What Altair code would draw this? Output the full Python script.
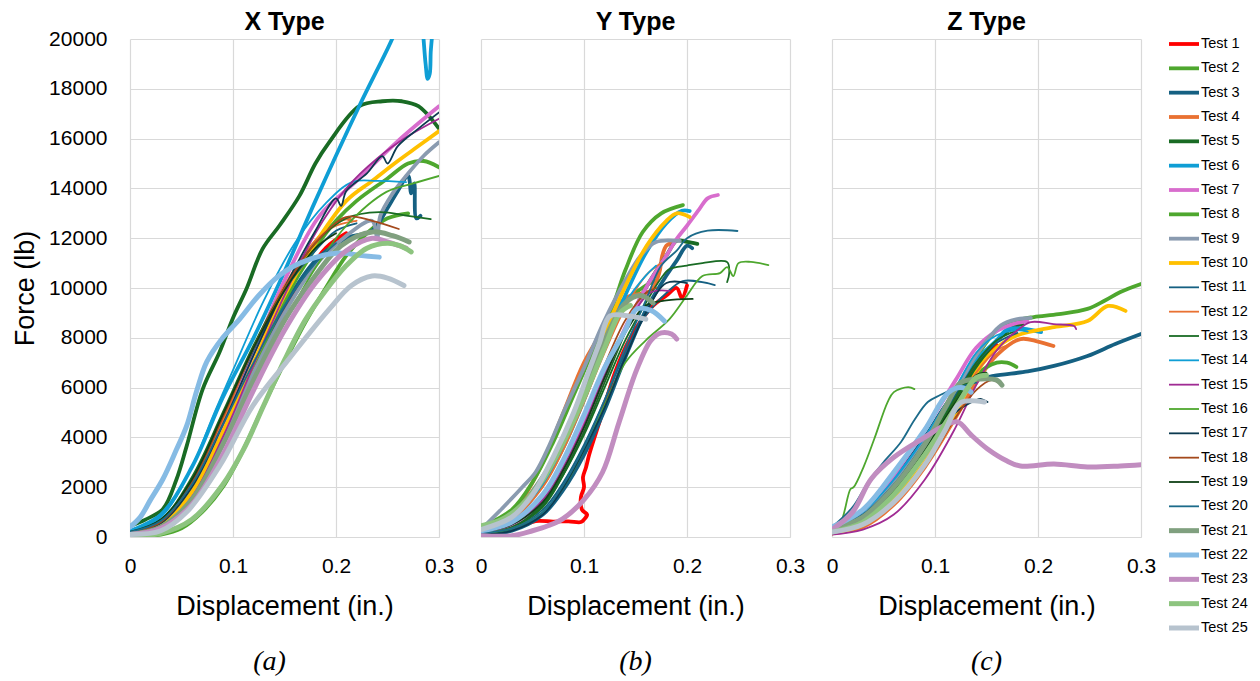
import altair as alt
import pandas as pd

TESTS = [f"Test {i}" for i in range(1, 26)]
COLORS = ["#FF0000", "#4EA72E", "#156082", "#E97132", "#196B24", "#0F9ED5", "#D86DCD",
          "#4EA72E", "#8A9BB0", "#FFC000", "#156082", "#E97132", "#196B24", "#0F9ED5",
          "#A02B93", "#4EA72E", "#0C3A50", "#A4491C", "#0F4016", "#1C6B8A", "#80A07F",
          "#86BBE4", "#C18DC0", "#8DC47F", "#B7C3CE"]
WIDTHS = [3.8] * 10 + [1.8] * 10 + [5.0] * 5

X_TICKS = [0, 0.1, 0.2, 0.3]
Y_TICKS = list(range(0, 20001, 2000))

# ---- X Type (a) ----
X_TYPE = {
    "Test 1": ([0, 0.03, 0.06, 0.08, 0.1, 0.13, 0.16, 0.19, 0.21],
               [100, 500, 1800, 3000, 4800, 7500, 9800, 11600, 12200]),
    "Test 2": ([0, 0.03, 0.05, 0.07, 0.09, 0.11, 0.13, 0.15, 0.17, 0.19, 0.21, 0.23, 0.25, 0.27],
               [0, 100, 350, 1000, 2000, 3500, 5300, 7000, 8600, 10000, 11300, 12200, 12800, 13000]),
    "Test 3": ([0, 0.03, 0.06, 0.09, 0.12, 0.15, 0.18, 0.21, 0.235, 0.25, 0.26, 0.27, 0.273, 0.276, 0.278, 0.282],
               [150, 500, 1900, 4300, 6900, 9300, 11100, 12000, 12300, 13200, 13900, 14500, 13800, 14200, 12800, 12900]),
    "Test 4": ([0, 0.03, 0.06, 0.09, 0.12, 0.15, 0.17, 0.19, 0.21, 0.215],
               [100, 500, 2000, 4600, 7400, 9900, 11300, 12300, 12800, 12700]),
    "Test 5": ([0, 0.015, 0.032, 0.045, 0.055, 0.0706, 0.087, 0.1, 0.113, 0.1287, 0.145, 0.1645, 0.18, 0.1935, 0.2226, 0.245, 0.264, 0.28, 0.3],
               [440, 700, 1125, 2300, 3650, 5940, 7430, 8800, 9960, 11570, 12500, 13700, 15000, 15860, 17300, 17500, 17500, 17300, 16400]),
    "Test 6": ([0, 0.03, 0.06, 0.09, 0.12, 0.148, 0.18, 0.2226, 0.2545, 0.26, 0.27, 0.283, 0.285, 0.287, 0.289, 0.291, 0.292, 0.293, 0.295],
               [250, 900, 2800, 5600, 8000, 10480, 13500, 17310, 20000, 20600, 21500, 21000, 20000, 19000, 18400, 18600, 19500, 20000, 21000]),
    "Test 7": ([0, 0.03, 0.06, 0.09, 0.12, 0.15, 0.184, 0.22, 0.26, 0.3],
               [100, 450, 1800, 4300, 7400, 10300, 12900, 14300, 15900, 17300]),
    "Test 8": ([0, 0.03, 0.06, 0.09, 0.12, 0.15, 0.18, 0.2, 0.22, 0.25, 0.27, 0.285, 0.3],
               [100, 400, 1500, 3800, 6800, 9500, 11600, 12700, 13500, 14400, 15000, 15100, 14850]),
    "Test 9": ([0, 0.03, 0.06, 0.09, 0.12, 0.15, 0.18, 0.21, 0.235, 0.24, 0.243, 0.255, 0.268, 0.285, 0.3],
               [150, 500, 1700, 4000, 6600, 9000, 10900, 12100, 12700, 12000, 12900, 13800, 14500, 15300, 15850]),
    "Test 10": ([0, 0.03, 0.06, 0.09, 0.12, 0.15, 0.18, 0.21, 0.235, 0.26, 0.28, 0.3],
                [100, 450, 1800, 4200, 7000, 9700, 11800, 13500, 14300, 15100, 15700, 16300]),
    "Test 11": ([0, 0.03, 0.06, 0.09, 0.12, 0.15, 0.18, 0.2, 0.22],
                [200, 700, 2300, 4800, 7500, 9900, 11500, 12300, 12600]),
    "Test 12": ([0, 0.03, 0.06, 0.09, 0.12, 0.15, 0.18, 0.2, 0.22],
                [150, 600, 2100, 4700, 7600, 10100, 11900, 12500, 12700]),
    "Test 13": ([0, 0.03, 0.06, 0.09, 0.12, 0.15, 0.18, 0.21, 0.242, 0.27, 0.292],
                [200, 700, 2400, 5000, 7700, 10000, 11800, 12800, 13050, 12900, 12770]),
    "Test 14": ([0, 0.03, 0.06, 0.08, 0.1, 0.13, 0.16, 0.19, 0.216, 0.24, 0.268],
                [200, 800, 2800, 4800, 6700, 9500, 11800, 13400, 14260, 14300, 14250]),
    "Test 15": ([0, 0.03, 0.06, 0.09, 0.12, 0.15, 0.18, 0.21, 0.24, 0.27, 0.3],
                [100, 400, 1600, 4000, 6900, 9700, 12200, 14000, 15200, 16100, 16800]),
    "Test 16": ([0, 0.03, 0.06, 0.09, 0.12, 0.15, 0.18, 0.21, 0.249, 0.275, 0.3],
                [100, 300, 1200, 3300, 6000, 8600, 10800, 12500, 13860, 14200, 14500]),
    "Test 17": ([0, 0.03, 0.06, 0.09, 0.12, 0.15, 0.18, 0.2, 0.205, 0.21, 0.23, 0.245, 0.25, 0.26, 0.28, 0.3],
                [150, 550, 2000, 4500, 7300, 10000, 12300, 13600, 13300, 13900, 14600, 15300, 15000, 15700, 16400, 17050]),
    "Test 18": ([0, 0.03, 0.06, 0.09, 0.12, 0.15, 0.18, 0.21, 0.235, 0.261],
                [150, 600, 2200, 4800, 7600, 10000, 11800, 12850, 12700, 12370]),
    "Test 19": ([0, 0.03, 0.06, 0.09, 0.12, 0.15, 0.18, 0.2],
                [200, 700, 2300, 4900, 7600, 9900, 11600, 12200]),
    "Test 20": ([0, 0.03, 0.06, 0.09, 0.12, 0.15, 0.18, 0.2],
                [200, 650, 2100, 4500, 7000, 9300, 11000, 11800]),
    "Test 21": ([0, 0.03, 0.06, 0.09, 0.12, 0.15, 0.18, 0.205, 0.235, 0.255, 0.271],
                [100, 400, 1500, 3700, 6300, 8700, 10500, 11700, 12250, 12100, 11850]),
    "Test 22": ([0, 0.01, 0.02, 0.032, 0.045, 0.055, 0.065, 0.0745, 0.09, 0.1065, 0.125, 0.145, 0.165, 0.2, 0.225, 0.242],
                [400, 800, 1500, 2330, 3500, 4460, 5900, 7030, 8000, 8750, 9700, 10500, 11000, 11400, 11300, 11240]),
    "Test 23": ([0, 0.03, 0.06, 0.09, 0.12, 0.15, 0.18, 0.21, 0.235, 0.25, 0.268],
                [100, 350, 1300, 3300, 5900, 8300, 10200, 11500, 12000, 11850, 11600]),
    "Test 24": ([0, 0.03, 0.06, 0.09, 0.11, 0.13, 0.15, 0.17, 0.19, 0.21, 0.23, 0.25, 0.262, 0.273],
                [50, 150, 700, 2100, 3500, 5300, 7100, 8700, 9900, 10900, 11600, 11800, 11700, 11450]),
    "Test 25": ([0, 0.03, 0.055, 0.087, 0.119, 0.152, 0.1935, 0.215, 0.235, 0.25, 0.266],
                [100, 250, 1000, 2850, 5260, 7030, 9150, 10100, 10480, 10400, 10100]),
}

# ---- Y Type (b) ----
Y_TYPE = {
    "Test 1": ([0, 0.02, 0.04, 0.053, 0.07, 0.085, 0.097, 0.1, 0.103, 0.098, 0.097, 0.1, 0.099, 0.102, 0.105, 0.118, 0.13, 0.145, 0.165, 0.18, 0.19, 0.195, 0.2],
               [50, 150, 450, 640, 620, 630, 600, 700, 900, 1100, 1600, 2000, 2400, 2800, 3300, 5000, 6600, 8000, 9200, 9700, 10000, 9600, 10100]),
    "Test 2": ([0, 0.03, 0.06, 0.08, 0.1, 0.12, 0.14, 0.16, 0.17],
               [300, 800, 2200, 3800, 5700, 7800, 9400, 10100, 10300]),
    "Test 3": ([0, 0.03, 0.06, 0.08, 0.1, 0.12, 0.14, 0.16, 0.18, 0.19, 0.2, 0.205],
               [100, 250, 900, 1900, 3300, 5100, 7200, 9100, 10500, 11100, 11700, 11600]),
    "Test 4": ([0, 0.02, 0.04, 0.06, 0.08, 0.1, 0.12, 0.14, 0.165, 0.173, 0.176, 0.18, 0.185],
               [200, 600, 1500, 3000, 5000, 7000, 8400, 9600, 9900, 10600, 11300, 11700, 11800]),
    "Test 5": ([0, 0.03, 0.06, 0.08, 0.1, 0.12, 0.14, 0.16, 0.18, 0.19, 0.2, 0.21],
               [150, 400, 1300, 2600, 4300, 6300, 8300, 10000, 11300, 11900, 11850, 11770]),
    "Test 6": ([0, 0.03, 0.06, 0.08, 0.1, 0.12, 0.14, 0.16, 0.18, 0.195, 0.2026],
               [250, 700, 2100, 3600, 5500, 7700, 9700, 11400, 12600, 13100, 13090]),
    "Test 7": ([0, 0.03, 0.06, 0.08, 0.1, 0.12, 0.14, 0.16, 0.18, 0.19, 0.2, 0.212, 0.22, 0.23],
               [200, 500, 1500, 2800, 4500, 6500, 8400, 10000, 11300, 11970, 12500, 13170, 13600, 13735]),
    "Test 8": ([0, 0.03, 0.05, 0.07, 0.09, 0.11, 0.128, 0.14, 0.157, 0.175, 0.196],
               [400, 1100, 2200, 3800, 5700, 7600, 9280, 10700, 12250, 13000, 13330]),
    "Test 9": ([0, 0.02, 0.04, 0.053, 0.066, 0.08, 0.1, 0.12, 0.14, 0.155, 0.17, 0.193],
               [300, 1125, 2000, 2600, 3650, 5000, 6800, 8700, 10300, 11300, 11850, 11890]),
    "Test 10": ([0, 0.03, 0.06, 0.08, 0.1, 0.12, 0.1344, 0.1607, 0.18, 0.19, 0.2026],
                [300, 900, 2400, 4000, 6000, 8200, 9560, 11690, 12700, 13000, 12850]),
    "Test 11": ([0, 0.03, 0.06, 0.08, 0.1, 0.12, 0.14, 0.16, 0.18, 0.196, 0.227],
                [150, 350, 1100, 2200, 3700, 5500, 7400, 8900, 9800, 10280, 10120]),
    "Test 12": ([0, 0.03, 0.06, 0.08, 0.1, 0.12, 0.14, 0.16, 0.175],
                [250, 700, 2000, 3500, 5400, 7400, 9200, 10500, 11000]),
    "Test 13": ([0, 0.03, 0.06, 0.08, 0.1, 0.12, 0.14, 0.16, 0.175, 0.183, 0.2, 0.215, 0.239, 0.241, 0.239],
                [150, 400, 1200, 2500, 4100, 6000, 7900, 9400, 10400, 10760, 10900, 11000, 11040, 10600, 10240]),
    "Test 14": ([0, 0.03, 0.06, 0.08, 0.1, 0.12, 0.14, 0.16, 0.17],
                [300, 800, 2200, 3700, 5600, 7600, 9400, 10500, 10900]),
    "Test 15": ([0, 0.03, 0.06, 0.08, 0.1, 0.12, 0.14, 0.164, 0.183],
                [200, 500, 1500, 2800, 4500, 6500, 8300, 9800, 9880]),
    "Test 16": ([0, 0.03, 0.06, 0.08, 0.1, 0.12, 0.14, 0.16, 0.183, 0.2, 0.215, 0.232, 0.239, 0.245, 0.25, 0.262, 0.279],
                [150, 350, 1000, 2000, 3500, 5300, 7000, 7900, 8750, 9700, 10480, 10600, 10840, 10480, 11000, 11050, 10920]),
    "Test 17": ([0, 0.03, 0.06, 0.08, 0.1, 0.12, 0.14, 0.16, 0.18, 0.2],
                [100, 250, 900, 2000, 3500, 5200, 7200, 9000, 10200, 10200]),
    "Test 18": ([0, 0.03, 0.06, 0.08, 0.1, 0.12, 0.14, 0.16, 0.17],
                [200, 600, 1700, 3100, 4900, 6900, 8700, 9800, 10000]),
    "Test 19": ([0, 0.03, 0.06, 0.08, 0.1, 0.12, 0.14, 0.16, 0.18, 0.2055],
                [200, 500, 1400, 2700, 4400, 6400, 8200, 9300, 9500, 9560]),
    "Test 20": ([0, 0.03, 0.06, 0.08, 0.1, 0.12, 0.14, 0.16, 0.175, 0.19, 0.2, 0.22, 0.249],
                [150, 350, 1000, 2100, 3600, 5500, 7600, 9500, 10900, 11500, 12000, 12300, 12290]),
    "Test 21": ([0, 0.03, 0.06, 0.08, 0.1, 0.12, 0.14, 0.155, 0.167],
                [350, 900, 2400, 4000, 5900, 7900, 9400, 9700, 9400]),
    "Test 22": ([0, 0.03, 0.06, 0.08, 0.1, 0.12, 0.14, 0.151, 0.165, 0.178],
                [250, 600, 1700, 3100, 4900, 6800, 8300, 9150, 9100, 8670]),
    "Test 23": ([0, 0.03, 0.05, 0.065, 0.079, 0.1, 0.118, 0.134, 0.151, 0.165, 0.175, 0.185, 0.19],
                [50, 50, 250, 450, 720, 1500, 2600, 4600, 6700, 7900, 8200, 8150, 7950]),
    "Test 24": ([0, 0.02, 0.04, 0.06, 0.08, 0.1, 0.12, 0.135, 0.145],
                [450, 700, 1300, 2300, 3800, 5600, 7600, 9000, 9300]),
    "Test 25": ([0, 0.03, 0.05, 0.07, 0.09, 0.105, 0.115, 0.125, 0.14, 0.16],
                [300, 800, 1700, 3200, 5000, 6700, 7800, 8870, 8900, 8750]),
}

# ---- Z Type (c) ----
Z_TYPE = {
    "Test 1": ([0, 0.03, 0.06, 0.09, 0.12, 0.14, 0.16],
               [200, 800, 2100, 3700, 5600, 7000, 7700]),
    "Test 2": ([0, 0.03, 0.06, 0.09, 0.12, 0.14, 0.16, 0.18, 0.196, 0.22, 0.248, 0.265, 0.28, 0.3],
               [300, 900, 2200, 3800, 5700, 7200, 8300, 8700, 8835, 8950, 9160, 9500, 9840, 10160]),
    "Test 3": ([0, 0.03, 0.06, 0.09, 0.12, 0.14, 0.157, 0.19, 0.2155, 0.248, 0.275, 0.3],
               [400, 1000, 2300, 4000, 5800, 6300, 6470, 6650, 6870, 7270, 7750, 8150]),
    "Test 4": ([0, 0.03, 0.06, 0.09, 0.12, 0.14, 0.16, 0.183, 0.2, 0.215],
               [150, 400, 1300, 2800, 4800, 6200, 7300, 7950, 7850, 7670]),
    "Test 5": ([0, 0.03, 0.06, 0.09, 0.12, 0.14, 0.16, 0.18, 0.185],
               [200, 700, 1900, 3500, 5400, 6800, 7900, 8500, 8550]),
    "Test 6": ([0, 0.03, 0.06, 0.09, 0.12, 0.14, 0.16, 0.171, 0.203],
               [400, 1000, 2300, 3900, 5800, 7100, 7900, 8350, 8230]),
    "Test 7": ([0, 0.03, 0.06, 0.09, 0.12, 0.14, 0.161, 0.18, 0.19],
               [300, 1000, 2500, 4300, 6300, 7600, 8300, 8600, 8650]),
    "Test 8": ([0, 0.03, 0.06, 0.09, 0.12, 0.14, 0.16, 0.17, 0.179],
               [200, 700, 1800, 3400, 5300, 6500, 7000, 7000, 6830]),
    "Test 9": ([0, 0.03, 0.06, 0.09, 0.12, 0.14, 0.164, 0.18, 0.193],
               [300, 900, 2200, 3900, 5900, 7300, 8500, 8750, 8800]),
    "Test 10": ([0, 0.03, 0.06, 0.09, 0.12, 0.14, 0.16, 0.18, 0.2155, 0.248, 0.268, 0.285],
                [150, 500, 1500, 3000, 5000, 6600, 7600, 8100, 8430, 8670, 9280, 9080]),
    "Test 11": ([0, 0.03, 0.06, 0.09, 0.12, 0.14, 0.16, 0.18],
                [300, 900, 2100, 3800, 5700, 7000, 7800, 8200]),
    "Test 12": ([0, 0.03, 0.06, 0.09, 0.12, 0.14, 0.16, 0.17],
                [200, 600, 1700, 3200, 5200, 6600, 7500, 7700]),
    "Test 13": ([0, 0.03, 0.06, 0.09, 0.12, 0.14, 0.16, 0.18],
                [250, 700, 1900, 3600, 5600, 7000, 7900, 8300]),
    "Test 14": ([0, 0.03, 0.06, 0.09, 0.12, 0.14, 0.16, 0.18, 0.19],
                [350, 1000, 2300, 4000, 6000, 7400, 8100, 8300, 8250]),
    "Test 15": ([0, 0.03, 0.06, 0.09, 0.12, 0.14, 0.16, 0.18, 0.193, 0.215, 0.235, 0.237],
                [100, 300, 900, 2300, 4400, 6100, 7500, 8300, 8630, 8550, 8470, 8350]),
    "Test 16": ([0, 0.0087, 0.018, 0.021, 0.031, 0.041, 0.054, 0.06, 0.074, 0.08],
                [200, 600, 1930, 2000, 2850, 3935, 5420, 5820, 6020, 5940]),
    "Test 17": ([0, 0.03, 0.06, 0.09, 0.12, 0.14, 0.145, 0.151],
                [200, 600, 1700, 3300, 5000, 5500, 5540, 5420]),
    "Test 18": ([0, 0.03, 0.06, 0.09, 0.12, 0.14, 0.155, 0.165],
                [200, 500, 1400, 2800, 4800, 5900, 6300, 6100]),
    "Test 19": ([0, 0.03, 0.06, 0.09, 0.12, 0.14, 0.15],
                [250, 700, 1900, 3500, 5400, 6500, 6600]),
    "Test 20": ([0, 0.02, 0.035, 0.05, 0.067, 0.08, 0.093, 0.105, 0.118, 0.13, 0.14],
                [400, 1200, 2210, 3000, 3815, 4700, 5420, 5700, 5940, 6100, 6200]),
    "Test 21": ([0, 0.03, 0.06, 0.09, 0.11, 0.125, 0.145, 0.16, 0.165],
                [300, 800, 2000, 3700, 5200, 6200, 6350, 6300, 6100]),
    "Test 22": ([0, 0.03, 0.06, 0.09, 0.113, 0.125, 0.135],
                [400, 1100, 2600, 4300, 5800, 6000, 5820]),
    "Test 23": ([0, 0.02, 0.038, 0.06, 0.09, 0.11, 0.122, 0.135, 0.151, 0.17, 0.183, 0.2155, 0.248, 0.28, 0.3],
                [300, 1000, 2330, 3200, 4000, 4500, 4620, 4100, 3535, 3050, 2850, 2930, 2810, 2850, 2900]),
    "Test 24": ([0, 0.03, 0.06, 0.09, 0.12, 0.14, 0.15],
                [200, 600, 1700, 3300, 5200, 6400, 6500]),
    "Test 25": ([0, 0.03, 0.06, 0.09, 0.11, 0.125, 0.148],
                [200, 500, 1400, 2900, 4300, 5400, 5420]),
}

PANELS = [("X Type", "(a)", X_TYPE), ("Y Type", "(b)", Y_TYPE), ("Z Type", "(c)", Z_TYPE)]

SANS = "Liberation Sans"
SERIF = "Liberation Serif"
W, H = 309, 498
KEYS = [f"T{i:02d}" for i in range(1, 26)]
color_scale = alt.Scale(domain=KEYS, range=COLORS)


def frame(data):
    rows = []
    for t, (xs, ys) in data.items():
        idx = TESTS.index(t)
        for i, (x, y) in enumerate(zip(xs, ys)):
            rows.append({"key": KEYS[idx], "test": t, "i": i, "x": x, "y": y, "w": WIDTHS[idx]})
    return pd.DataFrame(rows)


def panel(title, sub, data, first):
    df = frame(data)
    if first:
        yaxis = alt.Axis(values=Y_TICKS, format="d", title="Force (lb)", ticks=False, domain=False,
                         labelPadding=23, titlePadding=9, labelFontSize=21, titleFontSize=27,
                         labelColor="#000000", titleColor="#000000", titleFontWeight="normal")
    else:
        yaxis = alt.Axis(values=Y_TICKS, labels=False, title=None, ticks=False, domain=False)
    lines = alt.Chart(df).mark_line(clip=True, strokeJoin="round", strokeCap="round",
                                    interpolate="catmull-rom").encode(
        x=alt.X("x:Q", scale=alt.Scale(domain=[0, 0.3], nice=False),
                axis=alt.Axis(values=X_TICKS, format="~g", title="Displacement (in.)", ticks=False,
                              domain=True, domainColor="#D9D9D9", labelPadding=18, titlePadding=17,
                              labelFlush=False, labelFontSize=21, titleFontSize=27,
                              labelColor="#000000", titleColor="#000000", titleFontWeight="normal")),
        y=alt.Y("y:Q", scale=alt.Scale(domain=[0, 20000], nice=False), axis=yaxis),
        color=alt.Color("key:N", scale=color_scale, legend=None),
        strokeWidth=alt.StrokeWidth("w:Q", scale=None),
        order=alt.Order("i:Q"),
    )
    txt_df = pd.DataFrame({"t": [sub], "h": [title]})
    cap = alt.Chart(txt_df).mark_text(font=SERIF, fontStyle="italic", fontSize=28, baseline="middle",
                                      align="center", color="#000000").encode(
        text="t:N", x=alt.value(W / 2 - 15 if first else W / 2), y=alt.value(623))
    head = alt.Chart(txt_df).mark_text(font=SANS, fontWeight="bold", fontSize=25, baseline="middle",
                                       align="center", color="#000000").encode(
        text="h:N", x=alt.value(W / 2), y=alt.value(-17))
    return alt.layer(lines, cap, head).properties(width=W, height=H)


leg_df = pd.DataFrame({"key": KEYS, "label": TESTS, "w": WIDTHS})
leg_y = alt.Y("key:N", sort=KEYS, axis=None,
              scale=alt.Scale(type="point", domain=KEYS, range=[5, 589], padding=0))
leg_rule = alt.Chart(leg_df).mark_rule().encode(
    x=alt.value(-14), x2=alt.value(16), y=leg_y,
    color=alt.Color("key:N", scale=color_scale, legend=None),
    strokeWidth=alt.StrokeWidth("w:Q", scale=None))
leg_text = alt.Chart(leg_df).mark_text(align="left", baseline="middle", font=SANS, fontSize=14.5,
                                       color="#000000").encode(
    x=alt.value(18), y=leg_y, text="label:N")
legend = alt.layer(leg_rule, leg_text).properties(width=60, height=600)

charts = [panel(t, s, d, k == 0) for k, (t, s, d) in enumerate(PANELS)]
chart = alt.hconcat(*charts, legend, spacing=42, bounds="flush").properties(
    padding={"left": 3, "top": 2, "right": 0, "bottom": 0}
).configure_view(stroke=None).configure_axis(
    gridColor="#D9D9D9", gridWidth=1.2, labelFont=SANS, titleFont=SANS
)

chart.save("out.html", embed_options={"renderer": "svg", "actions": False})
